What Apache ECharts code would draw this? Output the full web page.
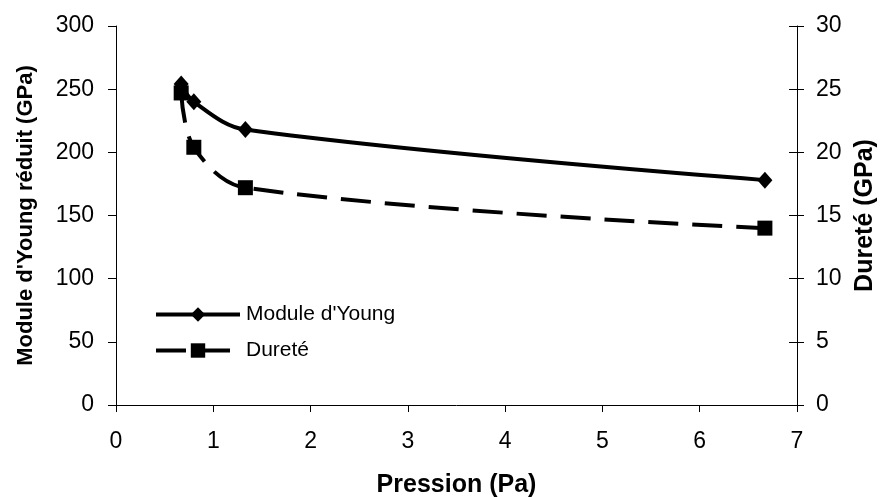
<!DOCTYPE html>
<html><head><meta charset="utf-8">
<script src="https://cdn.jsdelivr.net/npm/echarts@6/dist/echarts.min.js"></script>
<style>html,body{margin:0;padding:0;background:#fff}#c{width:882px;height:497px}</style>
</head><body><div id="c"></div>
<script>
const pression = [0.67, 0.8, 1.33, 6.67];
const moduleYoung = [254, 240, 218, 178];
const durete = [24.7, 20.4, 17.2, 14.0];
const F = 'Liberation Sans, Arial, sans-serif';
const chart = echarts.init(document.getElementById('c'));
chart.setOption({
  animation:false,
  grid:{left:116,right:85,top:26,bottom:92,containLabel:false,outerBoundsMode:'none'},
  legend:{
    orient:'vertical', left:149, top:299, itemWidth:84, itemHeight:18, itemGap:15,
    lineStyle:{width:4},
    textStyle:{fontFamily:F,fontSize:21,color:'#000',padding:[0,0,0,1]},
    data:["Module d'Young","Dureté"]
  },
  xAxis:{type:'value',min:0,max:7,interval:1,
    name:'Pression (Pa)',nameLocation:'middle',nameGap:68,
    nameTextStyle:{fontFamily:F,fontSize:25,fontWeight:'bold',color:'#000'},
    axisLine:{lineStyle:{color:'#000',width:1}},
    axisTick:{length:7,lineStyle:{color:'#000'}},
    axisLabel:{fontFamily:F,fontSize:23,color:'#000',margin:25},
    splitLine:{show:false}},
  yAxis:[
    {type:'value',min:0,max:300,interval:50,position:'left',
     name:"Module d'Young réduit (GPa)",nameLocation:'middle',nameGap:79,
     nameTextStyle:{fontFamily:F,fontSize:22,fontWeight:'bold',color:'#000'},
     axisLine:{show:true,lineStyle:{color:'#000'}},
     axisTick:{show:true,length:8,lineStyle:{color:'#000'}},
     axisLabel:{fontFamily:F,fontSize:23,color:'#000',margin:22},
     splitLine:{show:false}},
    {type:'value',min:0,max:30,interval:5,position:'right',
     name:'Dureté (GPa)',nameLocation:'middle',nameGap:56,nameRotate:90,
     nameTextStyle:{fontFamily:F,fontSize:25,fontWeight:'bold',color:'#000'},
     axisLine:{show:true,lineStyle:{color:'#000'}},
     axisTick:{show:true,length:7,lineStyle:{color:'#000'}},
     axisLabel:{fontFamily:F,fontSize:23,color:'#000',margin:19},
     splitLine:{show:false}},
    {type:'value',min:0,max:30,interval:5,position:'right',
     axisLine:{show:false},
     axisTick:{show:true,inside:true,length:8,lineStyle:{color:'#000'}},
     axisLabel:{show:false},
     splitLine:{show:false}}
  ],
  series:[
    {name:"Module d'Young",type:'line',yAxisIndex:0,smooth:0.35,
     data:pression.map((x,i)=>[x,moduleYoung[i]]),
     symbol:'diamond',symbolSize:[15,17],
     lineStyle:{color:'#000',width:4},itemStyle:{color:'#000'}},
    {name:'Dureté',type:'line',yAxisIndex:1,smooth:0.35,
     data:pression.map((x,i)=>[x,durete[i]]),
     symbol:'rect',symbolSize:15,
     lineStyle:{color:'#000',width:4,type:[30,14]},itemStyle:{color:'#000'}}
  ]
});
</script></body></html>
